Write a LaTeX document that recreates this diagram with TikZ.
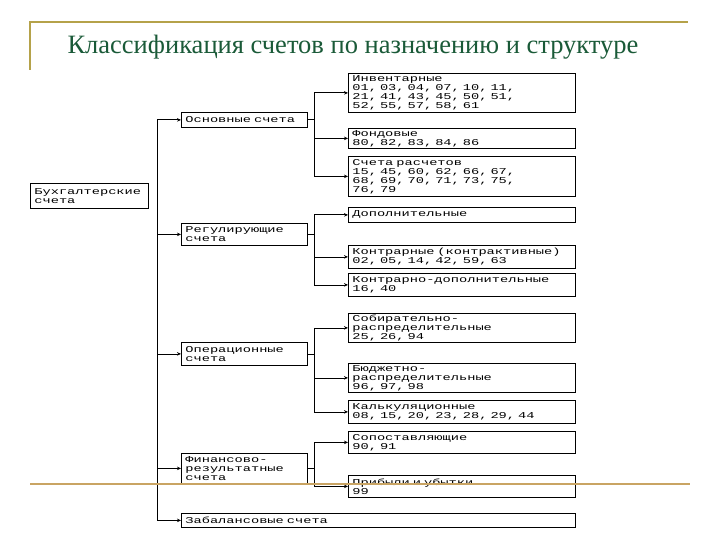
\documentclass[tikz,border=0pt]{standalone}
\usepackage{fontspec}
\setmainfont{Liberation Serif}
\newfontfamily\boxfont[FakeStretch=1.52]{Liberation Mono}
\usetikzlibrary{arrows.meta}
\definecolor{titlegreen}{HTML}{1A5A38}
\definecolor{framegold}{HTML}{B5A24A}
\definecolor{bottomtan}{HTML}{C9A463}
\tikzset{
  box/.style={draw, line width=0.8pt, anchor=north west, align=left,
    inner xsep=3pt, inner ysep=0.5pt, font=\boxfont\fontsize{9}{9}\selectfont},
  rbox/.style={box, minimum width=227pt, text width=219pt},
  mbox/.style={box, minimum width=126pt, text width=118pt},
  link/.style={line width=0.8pt},
  arr/.style={line width=0.8pt, -{Stealth[length=4pt,width=3.5pt]}},
}
\begin{document}
\begin{tikzpicture}[x=1pt,y=-1pt]
\useasboundingbox (0,0) rectangle (720,540);
% slide frame
\draw[framegold, line width=2pt] (30,70) -- (30,22) -- (688,22);
% title
\node[font=\fontsize{26.5}{30}\selectfont, text=titlegreen] (title) at (353,47)
  {Классификация счетов по назначению и структуре};
% left box
\node[box, minimum width=118pt, minimum height=25pt, text width=110pt] (buh) at (30,183) {Бухгалтерские\\счета};
% middle column
\node[mbox, minimum height=15pt] (osn) at (181,112) {Основные счета};
\node[mbox, minimum height=22pt] (reg) at (181,223) {Регулирующие\\счета};
\node[mbox, minimum height=23pt] (opr) at (181,342) {Операционные\\счета};
\node[mbox, minimum height=30pt] (fin) at (181,453) {Финансово-\\результатные\\счета};
\node[box, minimum width=394pt, minimum height=14pt, text width=386pt] (zab) at (181,513) {Забалансовые счета};
% right column
\node[rbox, minimum height=39pt] (inv) at (348,73) {Инвентарные\\01, 03, 04, 07, 10, 11,\\21, 41, 43, 45, 50, 51,\\52, 55, 57, 58, 61};
\node[rbox, minimum height=20pt] (fon) at (348,128) {Фондовые\\80, 82, 83, 84, 86};
\node[rbox, minimum height=40pt] (ras) at (348,156) {Счета расчетов\\15, 45, 60, 62, 66, 67,\\68, 69, 70, 71, 73, 75,\\76, 79};
\node[rbox, minimum height=15pt] (dop) at (348,207) {Дополнительные};
\node[rbox, minimum height=23pt] (kon) at (348,245) {Контрарные (контрактивные)\\02, 05, 14, 42, 59, 63};
\node[rbox, minimum height=23pt] (kd) at (348,273) {Контрарно-дополнительные\\16, 40};
\node[rbox, minimum height=29pt] (sob) at (348,313) {Собирательно-\\распределительные\\25, 26, 94};
\node[rbox, minimum height=29pt] (bud) at (348,363) {Бюджетно-\\распределительные\\96, 97, 98};
\node[rbox, minimum height=23pt] (kal) at (348,400) {Калькуляционные\\08, 15, 20, 23, 28, 29, 44};
\node[rbox, minimum height=22pt] (sop) at (348,431) {Сопоставляющие\\90, 91};
\node[rbox, minimum height=22pt] (pu) at (348,475) {Прибыли и убытки\\99};
% trunks
\coordinate (t1) at (157,0);
\coordinate (t2) at (314,0);
\draw[link] (t1 |- osn.west) -- (t1 |- zab.west);
\foreach \n in {osn,reg,opr,fin,zab} \draw[arr] (t1 |- \n.west) -- (\n.west);
% Основные
\draw[link] (osn.east) -- (osn.east -| t2);
\draw[link] (t2 |- inv.west) -- (t2 |- ras.west);
\foreach \n in {inv,fon,ras} \draw[arr] (t2 |- \n.west) -- (\n.west);
% Регулирующие
\draw[link] (reg.east) -- (reg.east -| t2);
\draw[link] (t2 |- dop.west) -- (t2 |- kd.west);
\foreach \n in {dop,kon,kd} \draw[arr] (t2 |- \n.west) -- (\n.west);
% Операционные
\draw[link] (opr.east) -- (opr.east -| t2);
\draw[link] (t2 |- sob.west) -- (t2 |- kal.west);
\foreach \n in {sob,bud,kal} \draw[arr] (t2 |- \n.west) -- (\n.west);
% Финансово-результатные
\draw[link] (fin.east) -- (fin.east -| t2);
\draw[link] (t2 |- sop.west) -- (t2 |- pu.west);
\foreach \n in {sop,pu} \draw[arr] (t2 |- \n.west) -- (\n.west);
% bottom slide line
\draw[bottomtan, line width=2.5pt] (30,484) -- (690,484);
\end{tikzpicture}
\end{document}
